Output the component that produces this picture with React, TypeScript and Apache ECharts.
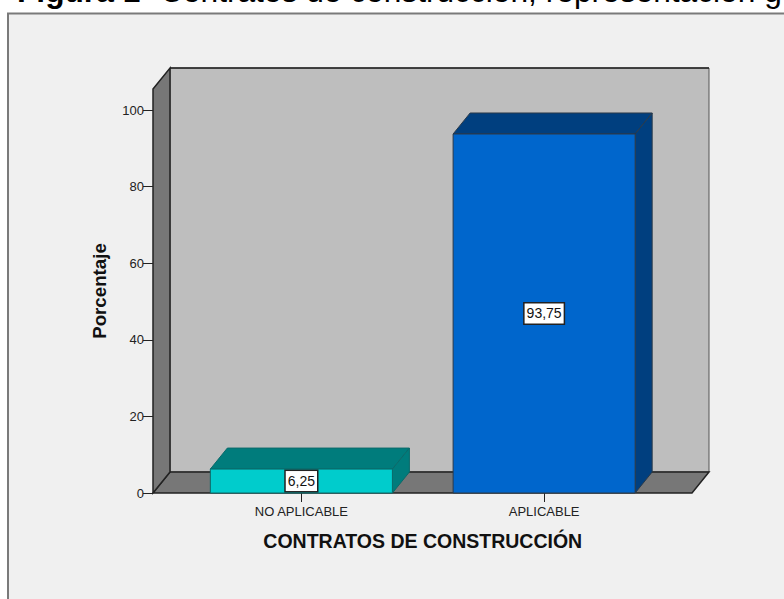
import React, { useEffect, useRef } from "react";
import * as echarts from "echarts";

const categories = ["NO APLICABLE", "APLICABLE"];
const values = [6.25, 93.75];
const frontColors = ["#00CCCC", "#0066CC"];
const depthColors = ["#007C7C", "#003F7F"];
const strokeColors = ["#0B6A6A", "#2A3A4A"];
const yTicks = [0, 20, 40, 60, 80, 100];
const titleBold = "Figura 1";
const titleRest = "Contratos de construcción, representación g";
const yName = "Porcentaje";
const xName = "CONTRATOS DE CONSTRUCCIÓN";

const FONT = '"Liberation Sans", Arial, sans-serif';
const DX = 17;
const DY = 21;
const LINE = "#222222";

export default function App() {
  const ref = useRef<HTMLDivElement>(null);
  useEffect(() => {
    document.body.style.margin = "0";
    const chart = echarts.init(ref.current!, null, { renderer: "svg" });
    chart.setOption({
      animation: false,
      backgroundColor: "#FFFFFF",
      grid: { left: 180, right: 118.5, top: 89, bottom: 106 },
      graphic: [
        { type: "rect", z: -10, shape: { x: 8, y: 13.5, width: 800, height: 600 }, style: { fill: "#F0F0F0", stroke: "#7A7A7A", lineWidth: 2 } },
        { type: "text", z: 1, x: 17, y: -9, style: { text: titleBold, font: `bold 31.7px ${FONT}`, fill: "#000", verticalAlign: "middle" } },
        { type: "text", z: 1, x: 160, y: -9, style: { text: titleRest, font: `31.7px ${FONT}`, fill: "#000", verticalAlign: "middle" } },
        { type: "rect", z: 0, shape: { x: 170, y: 68, width: 539, height: 404 }, style: { fill: "#BEBEBE", stroke: "#555555", lineWidth: 1 } },
        { type: "line", z: 0, shape: { x1: 170, y1: 68, x2: 709, y2: 68 }, style: { stroke: LINE, lineWidth: 1.5 } },
        { type: "polygon", z: 0, shape: { points: [[153, 493], [170, 472], [709, 472], [692, 493]] }, style: { fill: "#777777", stroke: LINE, lineWidth: 1.5 } },
        { type: "polygon", z: 0, shape: { points: [[153, 89], [170, 68], [170, 472], [153, 493]] }, style: { fill: "#777777", stroke: LINE, lineWidth: 1.5 } },
        { type: "text", z: 1, x: 99, y: 291, rotation: Math.PI / 2, style: { text: yName, font: `bold 18.7px ${FONT}`, fill: "#111", align: "center", verticalAlign: "middle" } },
      ],
      xAxis: {
        type: "category",
        data: categories,
        name: xName,
        nameLocation: "middle",
        nameGap: 38,
        nameTextStyle: { fontFamily: FONT, fontWeight: "bold", fontSize: 19.5, color: "#111" },
        axisLine: { show: false },
        axisTick: { show: true, alignWithLabel: true, length: 9, lineStyle: { color: LINE } },
        axisLabel: { fontFamily: FONT, fontSize: 13, color: "#222", margin: 12 },
        splitLine: { show: false },
      },
      yAxis: {
        type: "value",
        min: 0,
        max: 105.5,
        offset: 27,
        axisLine: { show: false },
        axisTick: { show: true, length: 10, customValues: yTicks, lineStyle: { color: LINE } },
        axisLabel: { fontFamily: FONT, fontSize: 13, color: "#222", margin: 9, customValues: yTicks },
        splitLine: { show: false },
      },
      series: [
        {
          type: "custom",
          z: 5,
          data: values.map((v, i) => [i, v]),
          renderItem: (params: any, api: any) => {
            const i = api.value(0);
            const v = api.value(1);
            const [cx, top] = api.coord([i, v]);
            const [, bottom] = api.coord([i, 0]);
            const w = api.size([1, 0])[0] * 0.75;
            const l = cx - w / 2;
            const r = cx + w / 2;
            const style = { stroke: strokeColors[i], lineWidth: 1 };
            return {
              type: "group",
              children: [
                { type: "polygon", shape: { points: [[l, top], [l + DX, top - DY], [r + DX, top - DY], [r, top]] }, style: { ...style, fill: depthColors[i] } },
                { type: "polygon", shape: { points: [[r, top], [r + DX, top - DY], [r + DX, bottom - DY], [r, bottom]] }, style: { ...style, fill: depthColors[i] } },
                { type: "rect", shape: { x: l, y: top, width: w, height: bottom - top }, style: { ...style, fill: frontColors[i] } },
                {
                  type: "text",
                  style: {
                    x: cx,
                    y: (top + bottom) / 2,
                    text: v.toFixed(2).replace(".", ","),
                    align: "center",
                    verticalAlign: "middle",
                    fontFamily: FONT,
                    fontSize: 14,
                    fill: "#111",
                    backgroundColor: "#FFFFFF",
                    borderColor: LINE,
                    borderWidth: 1.5,
                    padding: [3, 2],
                  },
                },
              ],
            };
          },
        },
      ],
    });
    return () => chart.dispose();
  }, []);
  return <div ref={ref} style={{ width: 784, height: 599 }} />;
}
